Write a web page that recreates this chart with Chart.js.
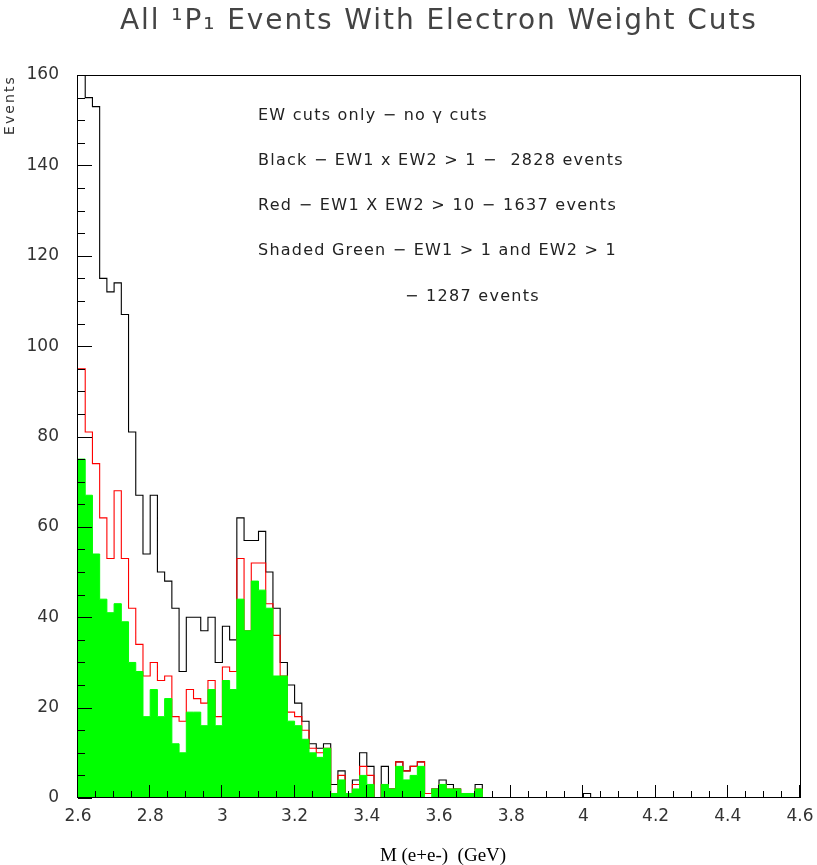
<!DOCTYPE html>
<html><head><meta charset="utf-8">
<script src="https://cdn.jsdelivr.net/npm/chart.js@4.4.1/dist/chart.umd.min.js"></script>
<style>html,body{margin:0;padding:0;background:#fff;}#wrap{width:817px;height:865px;position:relative;}</style>
</head><body>
<div id="wrap"><canvas id="c" width="817" height="865"></canvas></div>
<script>
// ---- data (100 bins of 0.02 GeV from 2.60 to 4.60) ----
const binStart = 2.6;
const binWidth = 0.02;
const nBins = 100;

const blackCounts = [
  170,155,153,115,112,114,107,81,67,54,
  67,50,48,42,28,40,40,37,40,30,
  38,35,62,57,57,59,50,42,30,25,
  21,17,12,11,12,3,6,1,4,10,
  7,0,7,2,8,6,7,8,1,2,
  4,3,2,1,1,3,0,0,0,0,
  0,0,0,0,0,0,0,0,0,0,
  1,0,0,0,0,0,0,0,0,0,
  0,0,0,0,0,0,0,0,0,0,
  0,0,0,0,0,0,0,0,0,0
];
const redCounts = [
  95,81,74,62,53,68,53,42,34,27,
  30,26,27,18,17,24,22,21,26,18,
  29,28,53,37,52,52,43,36,27,19,
  18,15,11,10,11,1,5,1,3,7,
  5,0,3,2,8,6,7,8,1,2,
  3,2,2,1,1,2,0,0,0,0,
  0,0,0,0,0,0,0,0,0,0,
  0,0,0,0,0,0,0,0,0,0,
  0,0,0,0,0,0,0,0,0,0,
  0,0,0,0,0,0,0,0,0,0
];
const greenCounts = [
  75,67,54,44,41,43,39,30,28,18,
  24,18,22,12,10,19,19,16,24,16,
  26,24,44,37,48,46,42,27,27,17,
  16,13,10,9,11,1,4,1,2,5,
  3,0,3,2,7,4,5,7,0,2,
  3,2,2,1,1,2,0,0,0,0,
  0,0,0,0,0,0,0,0,0,0,
  0,0,0,0,0,0,0,0,0,0,
  0,0,0,0,0,0,0,0,0,0,
  0,0,0,0,0,0,0,0,0,0
];
const xTickValues = [2.6,2.8,3.0,3.2,3.4,3.6,3.8,4.0,4.2,4.4,4.6];
const yTickValues = [0,20,40,60,80,100,120,140,160];

const titleText = "All \u00B9P\u2081 Events With Electron Weight Cuts";
const xAxisTitle = "M (e+e-)  (GeV)";
const yAxisTitle = "Events";
const noteLines = [
  "EW cuts only \u2212 no \u03B3 cuts",
  "Black \u2212 EW1 x EW2 > 1 \u2212  2828 events",
  "Red \u2212 EW1 X EW2 > 10 \u2212 1637 events",
  "Shaded Green \u2212 EW1 > 1 and EW2 > 1",
  "\u2212 1287 events"
];

// ---- build histogram step points from bin edges ----
const binEdges = Array.from({length: nBins + 1}, (_, i) => +(binStart + binWidth * i).toFixed(2));
function stepPoints(counts){
  const pts = counts.map((v, i) => ({x: binEdges[i], y: v}));
  pts.push({x: binEdges[nBins], y: counts[nBins - 1]});
  return pts;
}

function fitText(ctx, text, x, y, width, align){
  ctx.letterSpacing = '0px';
  const m = ctx.measureText(text).width;
  const n = [...text].length;
  const sp = (width - m) / n;
  ctx.letterSpacing = sp.toFixed(2) + 'px';
  ctx.textAlign = align || 'left';
  ctx.fillText(text, x, y);
  ctx.letterSpacing = '0px';
}

const SANS = '"DejaVu Sans", "Liberation Sans", sans-serif';

const decor = {
  id: 'decor',
  afterDatasetsDraw(chart){
    const {ctx, chartArea: a, scales: {x, y}} = chart;
    ctx.save();
    ctx.strokeStyle = '#000';
    ctx.lineWidth = 1;
    ctx.strokeRect(Math.round(a.left) - 0.5, Math.round(a.top) + 0.5,
                   Math.round(a.right - a.left) + 1, Math.round(a.bottom - a.top) - 1);
    ctx.beginPath();
    // x ticks: minor every 0.05, major every 0.2 (inward)
    for (let i = 0; i <= 40; i++){
      const v = binStart + i * 0.05;
      const px = Math.round(x.getPixelForValue(v)) - 0.5;
      const len = (i % 4 === 0) ? 13 : 7;
      ctx.moveTo(px, a.bottom);
      ctx.lineTo(px, a.bottom - len);
    }
    // y ticks: minor every 5, major every 20
    for (let i = 0; i <= 32; i++){
      const v = i * 5;
      const py = Math.round(y.getPixelForValue(v)) + 0.5;
      const len = (i % 4 === 0) ? 14 : 7;
      ctx.moveTo(a.left, py);
      ctx.lineTo(a.left + len, py);
    }
    ctx.stroke();
    ctx.restore();
  },
  afterDraw(chart){
    const ctx = chart.ctx;
    ctx.save();
    ctx.textBaseline = 'alphabetic';
    // title
    ctx.fillStyle = '#444';
    ctx.font = '28px ' + SANS;
    fitText(ctx, titleText, 120, 29, 638, 'left');
    // notes
    ctx.fillStyle = '#222';
    ctx.font = '16px ' + SANS;
    fitText(ctx, noteLines[0], 258, 120, 230, 'left');
    fitText(ctx, noteLines[1], 258, 165, 366, 'left');
    fitText(ctx, noteLines[2], 258, 210, 359, 'left');
    fitText(ctx, noteLines[3], 258, 255, 359, 'left');
    fitText(ctx, noteLines[4], 405, 301, 135, 'left');
    // x axis title (serif)
    ctx.font = '19px "Liberation Serif", "Times New Roman", serif';
    ctx.fillStyle = '#000';
    ctx.textAlign = 'center';
    ctx.fillText(xAxisTitle, 443, 861);
    // y axis title, rotated
    ctx.font = '14px ' + SANS;
    ctx.fillStyle = '#333';
    ctx.translate(14, 75);
    ctx.rotate(-Math.PI / 2);
    fitText(ctx, yAxisTitle, 0, 0, 60, 'right');
    ctx.restore();
  }
};

new Chart(document.getElementById('c'), {
  type: 'line',
  data: {
    datasets: [
      {
        label: 'Shaded Green',
        data: stepPoints(greenCounts),
        stepped: 'before',
        borderColor: '#00ff00',
        backgroundColor: '#00ff00',
        borderWidth: 1,
        fill: 'origin',
        pointRadius: 0,
        order: 0
      },
      {
        label: 'Red',
        data: stepPoints(redCounts),
        stepped: 'before',
        borderColor: '#ff0000',
        borderWidth: 1.1,
        fill: false,
        pointRadius: 0,
        order: 1
      },
      {
        label: 'Black',
        data: stepPoints(blackCounts),
        stepped: 'before',
        borderColor: '#000000',
        borderWidth: 1.1,
        fill: false,
        pointRadius: 0,
        order: 2
      }
    ]
  },
  plugins: [decor],
  options: {
    responsive: false,
    animation: false,
    devicePixelRatio: 1,
    layout: {padding: {top: 75, right: 17, left: 0, bottom: 0}},
    plugins: {legend: {display: false}, tooltip: {enabled: false}, title: {display: false}},
    scales: {
      x: {
        type: 'linear',
        min: 2.6, max: 4.6,
        afterBuildTicks: s => { s.ticks = xTickValues.map(v => ({value: v})); },
        afterFit: s => { s.height = 67; s.paddingLeft = 0; s.paddingRight = 0; },
        grid: {display: false, drawTicks: false},
        border: {display: false},
        ticks: {
          padding: 8,
          color: '#333',
          font: {family: SANS, size: 17},
          maxRotation: 0, autoSkip: false,
          callback: v => String(Number(v.toFixed(1)))
        }
      },
      y: {
        type: 'linear',
        min: 0, max: 160,
        afterBuildTicks: s => { s.ticks = yTickValues.map(v => ({value: v})); },
        afterFit: s => { s.width = 78; s.paddingTop = 0; s.paddingBottom = 0; },
        grid: {display: false, drawTicks: false},
        border: {display: false},
        ticks: {
          padding: 19,
          color: '#333',
          font: {family: SANS, size: 17},
          autoSkip: false
        }
      }
    }
  }
});
</script>
</body></html>
